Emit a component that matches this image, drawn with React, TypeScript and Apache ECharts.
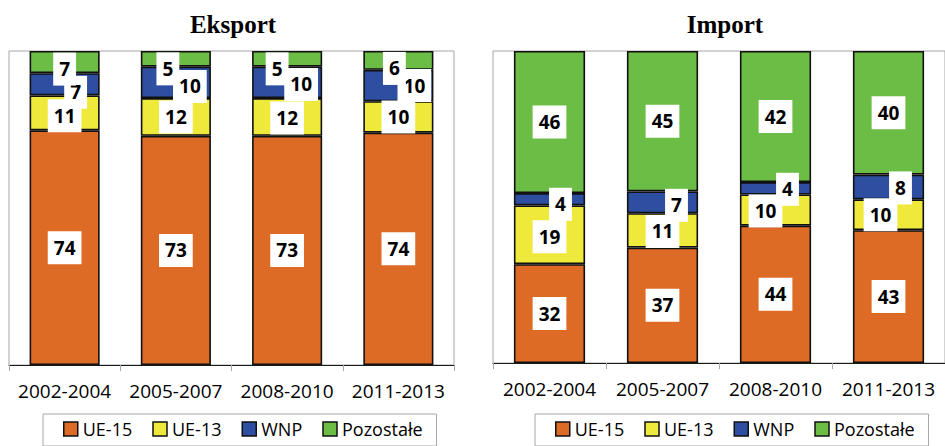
import React, { useEffect, useRef } from "react";
import * as echarts from "echarts";

const categories = ["2002-2004", "2005-2007", "2008-2010", "2011-2013"];
const seriesNames = ["UE-15", "UE-13", "WNP", "Pozostałe"];

const eksportUE15 = [74, 73, 73, 74];
const eksportUE13 = [11, 12, 12, 10];
const eksportWNP = [7, 10, 10, 10];
const eksportPozostale = [7, 5, 5, 6];

const importUE15 = [32, 37, 44, 43];
const importUE13 = [19, 11, 10, 10];
const importWNP = [4, 7, 4, 8];
const importPozostale = [46, 45, 42, 40];

const colors = ["#DD6B26", "#EFE93C", "#2E4EA1", "#6CBD46"];

// label nudges (dx, dy) per series and category, like the manually moved labels in the original
const eksportLabelOffsets = [
  [[0, 0], [0, 0], [0, 0], [0, 0]],
  [[0, 3], [0, 0], [0, 1], [0, 0]],
  [[11, 8], [14, 4], [14, 2], [16, 0]],
  [[0, 7], [-8, 10], [-10, 10], [-4, 8]],
];
const importLabelOffsets = [
  [[0, 0], [0, 0], [0, 0], [0, 0]],
  [[0, 2], [0, 1], [-10, 1], [-8, 0]],
  [[11, 5], [14, 3], [12, 1], [12, 1]],
  [[0, 0], [0, 0], [0, 0], [0, 0]],
];

const FONT = "'Open Sans', 'Noto Sans', sans-serif";

function buildSeries(groups: number[][], idx: number, offsets: number[][][], stack: string) {
  const totals = categories.map((_, c) => groups.reduce((s, g) => s + g[c], 0));
  return groups.map((vals, s) => ({
    name: seriesNames[s],
    type: "bar",
    stack,
    xAxisIndex: idx,
    yAxisIndex: idx,
    barCategoryGap: "37%",
    itemStyle: { color: colors[s], borderColor: "#111", borderWidth: 1.6 },
    label: {
      show: true,
      position: "inside",
      formatter: (p: any) => String(vals[p.dataIndex]),
      backgroundColor: "#fff",
      padding: [7, 6],
      color: "#000",
      fontFamily: FONT,
      fontWeight: "bold",
      fontSize: 19,
      lineHeight: 19,
    },
    data: vals.map((v, c) => ({
      value: (v / totals[c]) * 100,
      label: { offset: offsets[s][c] },
    })),
  }));
}

export default function App() {
  const ref = useRef<HTMLDivElement>(null);
  useEffect(() => {
    if (!ref.current) return;
    const chart = echarts.init(ref.current, undefined, { renderer: "svg" });
    const xAxisBase = {
      type: "category",
      data: categories,
      axisLine: { lineStyle: { color: "#1a1a1a", width: 1 } },
      axisTick: { show: true, length: 6, interval: 0, lineStyle: { color: "#a6a6a6" } },
      axisLabel: { interval: 0, hideOverlap: false, color: "#000", fontFamily: FONT, fontSize: 19, margin: 16 },
    };
    const yAxisBase = { type: "value", min: 0, max: 100, show: false, splitLine: { show: false } };
    const legendBase = {
      data: seriesNames,
      orient: "horizontal",
      top: 414,
      itemWidth: 14,
      itemHeight: 14,
      itemGap: 20,
      icon: "rect",
      borderColor: "#a6a6a6",
      borderWidth: 1,
      padding: [6, 14, 8, 20],
      itemStyle: { borderColor: "#111", borderWidth: 1.5 },
      textStyle: { color: "#000", fontFamily: FONT, fontSize: 18 },
    };
    chart.setOption({
      animation: false,
      title: [
        {
          text: "Eksport",
          left: 228,
          textAlign: "center",
          top: 7,
          textStyle: { fontFamily: "'Liberation Serif', serif", fontWeight: "bold", fontSize: 25, color: "#000" },
        },
        {
          text: "Import",
          left: 720,
          textAlign: "center",
          top: 7,
          textStyle: { fontFamily: "'Liberation Serif', serif", fontWeight: "bold", fontSize: 25, color: "#000" },
        },
      ],
      legend: [
        { ...legendBase, left: 43 },
        { ...legendBase, left: 535 },
      ],
      grid: [
        { left: 9, right: 491, top: 51, bottom: 81, show: true, borderColor: "#a6a6a6", borderWidth: 1 },
        { left: 493, right: -1, top: 51, bottom: 83, show: true, borderColor: "#a6a6a6", borderWidth: 1 },
      ],
      xAxis: [
        { ...xAxisBase, gridIndex: 0 },
        { ...xAxisBase, gridIndex: 1 },
      ],
      yAxis: [
        { ...yAxisBase, gridIndex: 0 },
        { ...yAxisBase, gridIndex: 1 },
      ],
      series: [
        ...buildSeries([eksportUE15, eksportUE13, eksportWNP, eksportPozostale], 0, eksportLabelOffsets, "eksport"),
        ...buildSeries([importUE15, importUE13, importWNP, importPozostale], 1, importLabelOffsets, "import"),
      ],
    });
    return () => chart.dispose();
  }, []);
  return (
    <div
      ref={ref}
      style={{ position: "absolute", left: 0, top: 0, width: 945, height: 446, background: "#fff" }}
    />
  );
}
